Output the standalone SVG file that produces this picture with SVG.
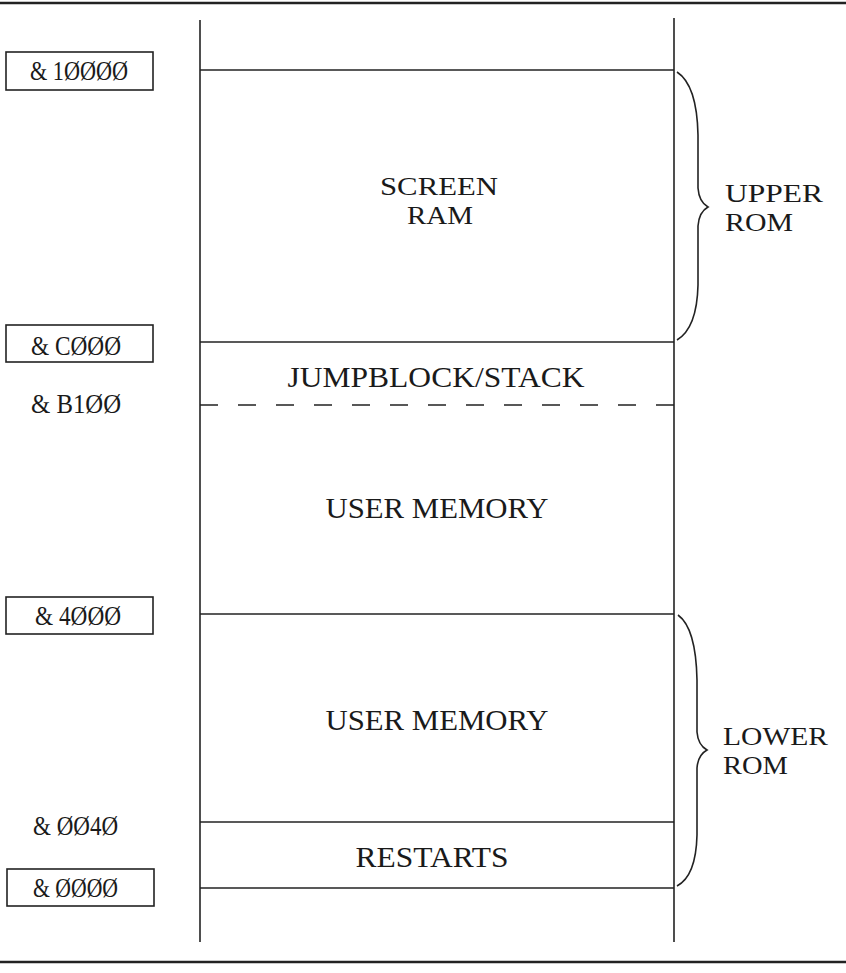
<svg xmlns="http://www.w3.org/2000/svg" width="846" height="973" viewBox="0 0 846 973">
<style>
.ln{stroke:#222;stroke-width:1.6;fill:none}
.rule{stroke:#222;stroke-width:2.4}
.dash{stroke:#222;stroke-width:1.6;stroke-dasharray:18 20}
.box{fill:none;stroke:#222;stroke-width:1.6}
.t{font-family:"Liberation Serif","Times New Roman",serif;font-size:30px;fill:#1a1a1a}
.s{font-family:"Liberation Serif","Times New Roman",serif;font-size:26px;fill:#1a1a1a}
.c{text-anchor:middle}
.a{font-family:"Liberation Serif","Times New Roman",serif;font-size:27px;fill:#1a1a1a}
</style>
<rect width="846" height="973" fill="#fff"/>
<line class="rule" x1="0" y1="3" x2="846" y2="3"/>
<line class="rule" x1="0" y1="962" x2="846" y2="962"/>
<g id="connectors">
<line class="ln" x1="200" y1="20" x2="200" y2="942"/>
<line class="ln" x1="674" y1="18" x2="674" y2="942"/>
<line class="ln" x1="200" y1="70" x2="674" y2="70"/>
<line class="ln" x1="200" y1="342" x2="674" y2="342"/>
<line class="dash" x1="200" y1="405" x2="674" y2="405"/>
<line class="ln" x1="200" y1="614" x2="674" y2="614"/>
<line class="ln" x1="200" y1="822" x2="674" y2="822"/>
<line class="ln" x1="200" y1="888" x2="674" y2="888"/>
<path class="ln" d="M677,72 Q697,85 698,135 L698,188 Q699,202 708,207 Q699,212 698,226 L698,285 Q697,328 677,340"/>
<path class="ln" d="M678,615 Q696,628 697,680 L697,732 Q698,745 707,750 Q698,755 697,768 L697,835 Q696,876 677,886"/>
</g>
<g id="screen-ram"><text class="s c" x="439" y="195" textLength="118" lengthAdjust="spacingAndGlyphs">SCREEN</text><text class="s c" x="440" y="224" textLength="66" lengthAdjust="spacingAndGlyphs">RAM</text></g>
<g id="jumpblock"><text class="t c" x="436" y="387" textLength="297" lengthAdjust="spacingAndGlyphs">JUMPBLOCK/STACK</text></g>
<g id="user-memory-1"><text class="t c" x="437" y="518" textLength="223" lengthAdjust="spacingAndGlyphs">USER MEMORY</text></g>
<g id="user-memory-2"><text class="t c" x="437" y="730" textLength="223" lengthAdjust="spacingAndGlyphs">USER MEMORY</text></g>
<g id="restarts"><text class="t c" x="432" y="867" textLength="153" lengthAdjust="spacingAndGlyphs">RESTARTS</text></g>
<g id="upper-rom"><text class="s" x="725" y="202" textLength="98" lengthAdjust="spacingAndGlyphs">UPPER</text><text class="s" x="725" y="231" textLength="68" lengthAdjust="spacingAndGlyphs">ROM</text></g>
<g id="lower-rom"><text class="s" x="723" y="745" textLength="105" lengthAdjust="spacingAndGlyphs">LOWER</text><text class="s" x="723" y="774" textLength="65" lengthAdjust="spacingAndGlyphs">ROM</text></g>
<g id="addr-10000"><rect class="box" x="6" y="52" width="147" height="38"/><text class="a" x="30" y="80" textLength="98" lengthAdjust="spacingAndGlyphs">&amp; 1ØØØØ</text></g>
<g id="addr-C000"><rect class="box" x="6" y="325" width="147" height="37"/><text class="a" x="31" y="355" textLength="90" lengthAdjust="spacingAndGlyphs">&amp; CØØØ</text></g>
<g id="addr-B100"><text class="a" x="31" y="413" textLength="90" lengthAdjust="spacingAndGlyphs">&amp; B1ØØ</text></g>
<g id="addr-4000"><rect class="box" x="6" y="597" width="147" height="37"/><text class="a" x="35" y="625" textLength="86" lengthAdjust="spacingAndGlyphs">&amp; 4ØØØ</text></g>
<g id="addr-0040"><text class="a" x="33" y="835" textLength="85" lengthAdjust="spacingAndGlyphs">&amp; ØØ4Ø</text></g>
<g id="addr-0000"><rect class="box" x="7" y="869" width="147" height="37"/><text class="a" x="33" y="897" textLength="85" lengthAdjust="spacingAndGlyphs">&amp; ØØØØ</text></g>
</svg>
